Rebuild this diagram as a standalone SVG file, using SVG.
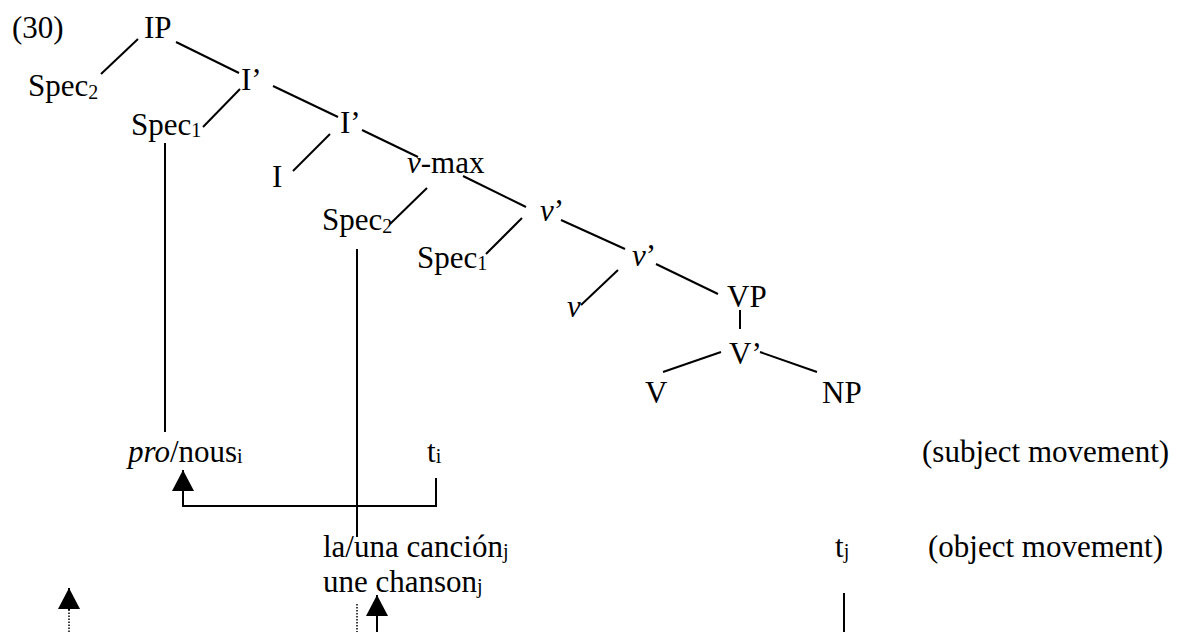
<svg xmlns="http://www.w3.org/2000/svg" width="1177" height="632" viewBox="0 0 1177 632">
<defs>
<style>
text { font-family: 'Liberation Serif', 'DejaVu Serif', 'Times New Roman', serif; font-size: 31px; fill: #000; }
.sub { font-size: 20px; }
.it { font-style: italic; }
.ln { stroke: #000; stroke-width: 2; fill: none; }
.dot { stroke: #000; stroke-width: 1.5; stroke-dasharray: 1.5 1.5; fill: none; }
</style>
<marker id="ah" markerUnits="userSpaceOnUse" markerWidth="22" markerHeight="22" viewBox="0 0 20 21" refX="20" refY="10.5" orient="auto">
<path d="M0,0 L20,10.5 L0,21 Z" fill="#000"/>
</marker>
</defs>
<rect width="1177" height="632" fill="#fff"/>
<g id="connectors">
<line class="ln" x1="138" y1="39" x2="101" y2="74"/>
<line class="ln" x1="176" y1="42" x2="239" y2="73"/>
<line class="ln" x1="240" y1="89" x2="203" y2="127"/>
<line class="ln" x1="273" y1="86" x2="338" y2="117"/>
<line class="ln" x1="330" y1="134" x2="293" y2="171"/>
<line class="ln" x1="362" y1="130" x2="418" y2="157"/>
<line class="ln" x1="427" y1="188" x2="390" y2="224"/>
<line class="ln" x1="463" y1="176" x2="526" y2="207"/>
<line class="ln" x1="522" y1="218" x2="486" y2="254"/>
<line class="ln" x1="561" y1="220" x2="625" y2="249"/>
<line class="ln" x1="618" y1="270" x2="581" y2="305"/>
<line class="ln" x1="656" y1="264" x2="718" y2="294"/>
<line class="ln" x1="740" y1="310" x2="740" y2="329"/>
<line class="ln" x1="721" y1="352" x2="663" y2="372"/>
<line class="ln" x1="760" y1="352" x2="817" y2="372"/>
<line class="ln" x1="165" y1="143" x2="165" y2="432"/>
<line class="ln" x1="357" y1="249" x2="357" y2="537"/>
<path class="ln" d="M436,478 V506 H183 V470" marker-end="url(#ah)"/>
<line class="dot" x1="69" y1="632" x2="69" y2="609"/>
<line class="ln" x1="69" y1="610" x2="69" y2="588" marker-end="url(#ah)"/>
<line class="dot" x1="357" y1="604" x2="357" y2="632"/>
<line class="ln" x1="377" y1="632" x2="377" y2="595" marker-end="url(#ah)"/>
<line class="ln" x1="844" y1="593" x2="844" y2="632"/>
</g>
<g font-family="Liberation Serif, DejaVu Serif, serif">
<g id="label-30"><text x="12" y="38">(30)</text></g>
<g id="IP"><text x="144" y="38">IP</text></g>
<g id="Spec2-IP"><text x="28" y="96">Spec<tspan class="sub" dy="3">2</tspan></text></g>
<g id="Ibar1"><text x="241" y="90">I’</text></g>
<g id="Spec1-IP"><text x="131" y="135">Spec<tspan class="sub" dy="2">1</tspan></text></g>
<g id="Ibar2"><text x="340" y="133">I’</text></g>
<g id="I"><text x="272" y="187">I</text></g>
<g id="vmax"><text x="407" y="173"><tspan class="it">v</tspan>-max</text></g>
<g id="Spec2-v"><text x="322" y="230">Spec<tspan class="sub" dy="3">2</tspan></text></g>
<g id="vbar1"><text x="540" y="221"><tspan class="it">v</tspan>’</text></g>
<g id="Spec1-v"><text x="417" y="268">Spec<tspan class="sub" dy="2">1</tspan></text></g>
<g id="vbar2"><text x="632" y="266"><tspan class="it">v</tspan>’</text></g>
<g id="v"><text x="567" y="317" class="it">v</text></g>
<g id="VP"><text x="727" y="307">VP</text></g>
<g id="Vbar"><text x="729" y="364">V’</text></g>
<g id="V"><text x="645" y="403">V</text></g>
<g id="NP"><text x="822" y="403">NP</text></g>
<g id="pro-nous"><text x="128" y="462"><tspan class="it">pro</tspan>/nous<tspan class="sub" dy="1">i</tspan></text></g>
<g id="ti"><text x="427" y="462">t<tspan class="sub" dy="1">i</tspan></text></g>
<g id="subject-movement"><text x="922" y="462">(subject movement)</text></g>
<g id="la-una-cancion"><text x="323" y="557">la/una canción<tspan class="sub" dy="1">j</tspan></text></g>
<g id="une-chanson"><text x="323" y="592">une chanson<tspan class="sub" dy="1">j</tspan></text></g>
<g id="tj"><text x="835" y="557">t<tspan class="sub" dy="1">j</tspan></text></g>
<g id="object-movement"><text x="928" y="557">(object movement)</text></g>
</g>
</svg>
